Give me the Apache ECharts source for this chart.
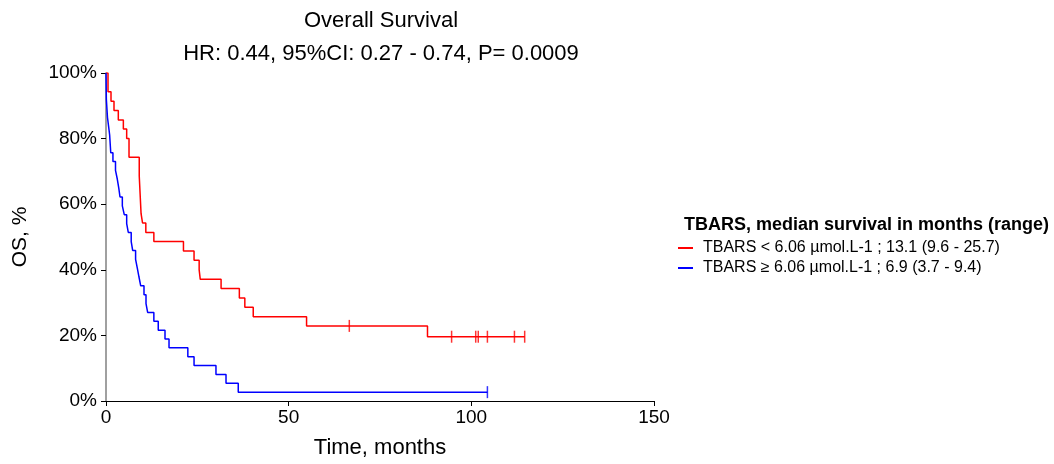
<!DOCTYPE html>
<html>
<head>
<meta charset="utf-8">
<script src="https://cdn.jsdelivr.net/npm/echarts@6/dist/echarts.min.js"></script>
<style>
  html, body { margin: 0; padding: 0; background: #ffffff; overflow: hidden; }
  #chart { width: 1054px; height: 464px; }
</style>
</head>
<body>
<div id="chart"></div>
<script>
// Kaplan-Meier overall survival by TBARS level (months, % surviving)
const lowTimes = [0, 0.55, 1.37, 2.19, 3.37, 4.75, 5.66, 6.3, 9.1, 9.6, 10.0, 10.9, 13.1, 21.2, 24.1, 25.5, 25.8, 31.5, 36.5, 38.0, 40.3, 54.9, 88.0, 114.6];
const lowSurv  = [100, 94.3, 91.4, 88.6, 85.7, 82.9, 80.0, 74.3, 68.6, 57.1, 54.3, 51.4, 48.6, 45.7, 42.9, 40.0, 37.1, 34.3, 31.4, 28.6, 25.7, 22.9, 19.6, 19.6];
const lowCensorTimes = [66.6, 94.6, 101.2, 101.9, 104.4, 111.8, 114.6];
const lowCensorSurv  = [22.9, 19.6, 19.6, 19.6, 19.6, 19.6, 19.6];

const highTimes = [0, 0.1, 0.4, 0.7, 1.0, 1.3, 1.9, 2.6, 3.1, 3.5, 3.83, 4.47, 5.0, 5.66, 6.1, 6.9, 7.3, 8.1, 8.57, 9.03, 9.5, 10.4, 10.95, 11.4, 13.1, 14.3, 16.15, 17.25, 22.4, 24.1, 30.1, 32.85, 36.2, 104.4];
const highSurv  = [100, 91.9, 86.5, 83.8, 81.1, 75.7, 73.0, 70.3, 67.6, 64.9, 62.2, 59.5, 56.8, 54.1, 51.4, 48.6, 45.9, 43.2, 40.5, 37.8, 35.1, 32.4, 29.7, 27.0, 24.3, 21.6, 18.9, 16.2, 13.5, 10.8, 8.1, 5.4, 2.7, 2.7];
const highCensorTimes = [104.4];
const highCensorSurv  = [2.7];

const seriesNames = [
  'TBARS < 6.06 \u00b5mol.L-1 ; 13.1 (9.6 - 25.7)',
  'TBARS \u2265 6.06 \u00b5mol.L-1 ; 6.9 (3.7 - 9.4)'
];
const titleText = 'Overall Survival';
const subtitleText = 'HR: 0.44, 95%CI: 0.27 - 0.74, P= 0.0009';
const legendTitle = 'TBARS, median survival in months (range)';

const FONT = '"Liberation Sans", Arial, Helvetica, sans-serif';
const RED = '#ff0000';
const BLUE = '#0000ff';

const pairs = (xs, ys) => xs.map((x, i) => [x, ys[i]]);

const chart = echarts.init(document.getElementById('chart'), null, { renderer: 'canvas', width: 1054, height: 464 });

function stepSeries(name, xs, ys, color) {
  return {
    name: name,
    type: 'line',
    step: 'end',
    data: pairs(xs, ys),
    symbol: 'none',
    lineStyle: { color: color, width: 1.5 },
    itemStyle: { color: color },
    animation: false,
    z: 3
  };
}

function censorSeries(name, xs, ys, color) {
  return {
    name: name,
    type: 'scatter',
    data: pairs(xs, ys),
    symbol: 'rect',
    symbolSize: [1.5, 12],
    itemStyle: { color: color },
    animation: false,
    z: 4
  };
}

chart.setOption({
  backgroundColor: '#ffffff',
  animation: false,
  textStyle: { fontFamily: FONT },
  grid: { left: 106, right: 400, top: 73, bottom: 58, containLabel: false },
  graphic: [
    { type: 'text', style: { text: titleText, x: 381, y: 21, textAlign: 'center', textVerticalAlign: 'middle', font: '22px ' + FONT, fill: '#000' } },
    { type: 'text', style: { text: subtitleText, x: 381, y: 54, textAlign: 'center', textVerticalAlign: 'middle', font: '22px ' + FONT, fill: '#000' } },
    { type: 'text', style: { text: legendTitle, x: 684, y: 225, textAlign: 'left', textVerticalAlign: 'middle', font: 'bold 18px ' + FONT, fill: '#000' } }
  ],
  legend: {
    data: seriesNames,
    orient: 'vertical',
    left: 673,
    top: 235,
    itemWidth: 15,
    itemHeight: 2,
    itemGap: 4,
    icon: 'rect',
    textStyle: { fontSize: 16, color: '#000', fontFamily: FONT, padding: [0, 0, 0, 5] },
    selectedMode: false
  },
  xAxis: {
    type: 'value',
    min: 0,
    max: 150,
    interval: 50,
    name: 'Time, months',
    nameLocation: 'middle',
    nameGap: 36,
    nameTextStyle: { fontSize: 22, color: '#000', fontFamily: FONT },
    axisLine: { show: true, lineStyle: { color: '#000', width: 1.2 } },
    axisTick: { show: true, length: 5, lineStyle: { color: '#000' } },
    axisLabel: { fontSize: 19, color: '#000', margin: 7, fontFamily: FONT },
    splitLine: { show: false }
  },
  yAxis: {
    type: 'value',
    min: 0,
    max: 100,
    interval: 20,
    name: 'OS, %',
    nameLocation: 'middle',
    nameGap: 75,
    nameTextStyle: { fontSize: 21, color: '#000', fontFamily: FONT },
    axisLine: { show: true, lineStyle: { color: '#808080', width: 1.5 } },
    axisTick: { show: true, length: 5, lineStyle: { color: '#000' } },
    axisLabel: { fontSize: 19, color: '#000', margin: 9, fontFamily: FONT, formatter: '{value}%' },
    splitLine: { show: false }
  },
  series: [
    stepSeries(seriesNames[0], lowTimes, lowSurv, RED),
    stepSeries(seriesNames[1], highTimes, highSurv, BLUE),
    censorSeries('low-censor', lowCensorTimes, lowCensorSurv, RED),
    censorSeries('high-censor', highCensorTimes, highCensorSurv, BLUE)
  ]
});
</script>
</body>
</html>
